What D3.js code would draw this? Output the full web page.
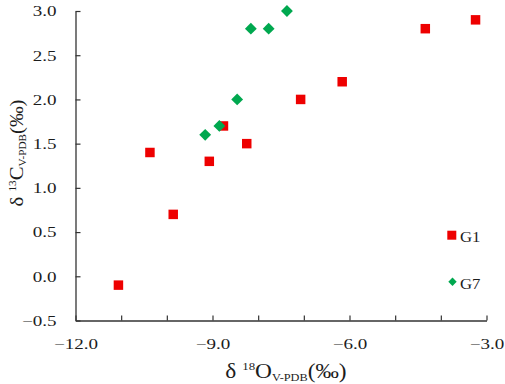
<!DOCTYPE html>
<html>
<head>
<meta charset="utf-8">
<script src="https://cdn.jsdelivr.net/npm/d3@7"></script>
<style>
  body { margin: 0; background: #fff; }
  text { font-family: "Liberation Serif", "Times New Roman", serif; fill: #1c1c1c; }
</style>
</head>
<body>
<svg id="chart" width="505" height="384"></svg>
<script>
// δ18O / δ13C values
const g1_o = [-3.24, -4.34, -6.16, -7.07, -8.76, -8.25, -10.37, -9.07, -9.86, -11.06];
const g1_c = [2.9, 2.8, 2.2, 2.0, 1.7, 1.5, 1.4, 1.3, 0.7, -0.1];
const g7_o = [-7.37, -8.16, -7.77, -8.46, -8.85, -9.16];
const g7_c = [3.0, 2.8, 2.8, 2.0, 1.7, 1.6];
const xTicks = [-12, -11, -10, -9, -8, -7, -6, -5, -4, -3];
const xLabels = [-12, -9, -6, -3];
const yTicks = [-0.5, 0, 0.5, 1, 1.5, 2, 2.5, 3];
const seriesNames = ["G1", "G7"];

const svg = d3.select("#chart");
const x = d3.scaleLinear().domain([-12, -3]).range([75.5, 486.5]);
const y = d3.scaleLinear().domain([-0.5, 3]).range([320.5, 11]);

const axisColor = "#333";
const sx = 1.27; // the original lettering is wide, stretch horizontally

const xAxis = svg.append("g")
  .attr("transform", "translate(0,320.5)")
  .call(d3.axisBottom(x).tickValues(xTicks).tickSizeInner(-5).tickSizeOuter(0).tickPadding(18)
    .tickFormat(d => xLabels.includes(d) ? d3.format(".1f")(d) : ""));
const yAxis = svg.append("g")
  .attr("transform", "translate(75.5,0)")
  .call(d3.axisLeft(y).tickValues(yTicks).tickSizeInner(-5).tickSizeOuter(0).tickPadding(19)
    .tickFormat(d3.format(".1f")));

[xAxis, yAxis].forEach(a => {
  a.select(".domain").attr("stroke", axisColor).attr("stroke-width", 1.3);
  a.selectAll(".tick line").attr("stroke", axisColor).attr("stroke-width", 1.2);
  a.selectAll(".tick text").style("font-family", "Liberation Serif").style("font-size", "15px")
    .attr("fill", "#1c1c1c").attr("transform", `scale(${sx},1)`);
});
yAxis.selectAll(".tick text").attr("x", -19 / sx);

const sq = d3.symbol(d3.symbolSquare, 90);
const dm = d3.symbol(d3.symbolSquare, 70);

svg.append("g").selectAll("path")
  .data(d3.zip(g1_o, g1_c))
  .join("path")
  .attr("d", sq)
  .attr("transform", d => `translate(${x(d[0])},${y(d[1])})`)
  .attr("fill", "#ee0000");

svg.append("g").selectAll("path")
  .data(d3.zip(g7_o, g7_c))
  .join("path")
  .attr("d", dm)
  .attr("transform", d => `translate(${x(d[0])},${y(d[1])}) rotate(45)`)
  .attr("fill", "#00a84f");

// legend
const leg = svg.append("g");
leg.append("path").attr("d", d3.symbol(d3.symbolSquare, 81))
  .attr("transform", "translate(451.8,235.2)").attr("fill", "#ee0000");
leg.append("path").attr("d", d3.symbol(d3.symbolSquare, 35))
  .attr("transform", "translate(452.5,281.7) rotate(45)").attr("fill", "#00a84f");
leg.append("text").attr("transform", "translate(460,241.7) scale(1.08,1)").style("font-size", "15.5px").text(seriesNames[0]);
leg.append("text").attr("transform", "translate(460,289) scale(1.08,1)").style("font-size", "15.5px").text(seriesNames[1]);

// axis titles
const xt = svg.append("text").attr("transform", "translate(286,378) scale(1.17,1)")
  .attr("text-anchor", "middle").style("font-size", "20px");
xt.append("tspan").text("δ ");
xt.append("tspan").attr("dy", -8).style("font-size", "11px").text("18");
xt.append("tspan").attr("dy", 8).text("O");
xt.append("tspan").attr("dy", 3).style("font-size", "10.5px").text("V-PDB");
xt.append("tspan").attr("dy", -3).text("(‰)");

const yt = svg.append("text").attr("transform", "translate(23,153) rotate(-90) scale(1.12,1)")
  .attr("text-anchor", "middle").style("font-size", "18.5px");
yt.append("tspan").text("δ ");
yt.append("tspan").attr("dy", -7).style("font-size", "10px").text("13");
yt.append("tspan").attr("dy", 7).text("C");
yt.append("tspan").attr("dy", 3).style("font-size", "10px").text("V-PDB");
yt.append("tspan").attr("dy", -3).text("(‰)");
</script>
</body>
</html>
